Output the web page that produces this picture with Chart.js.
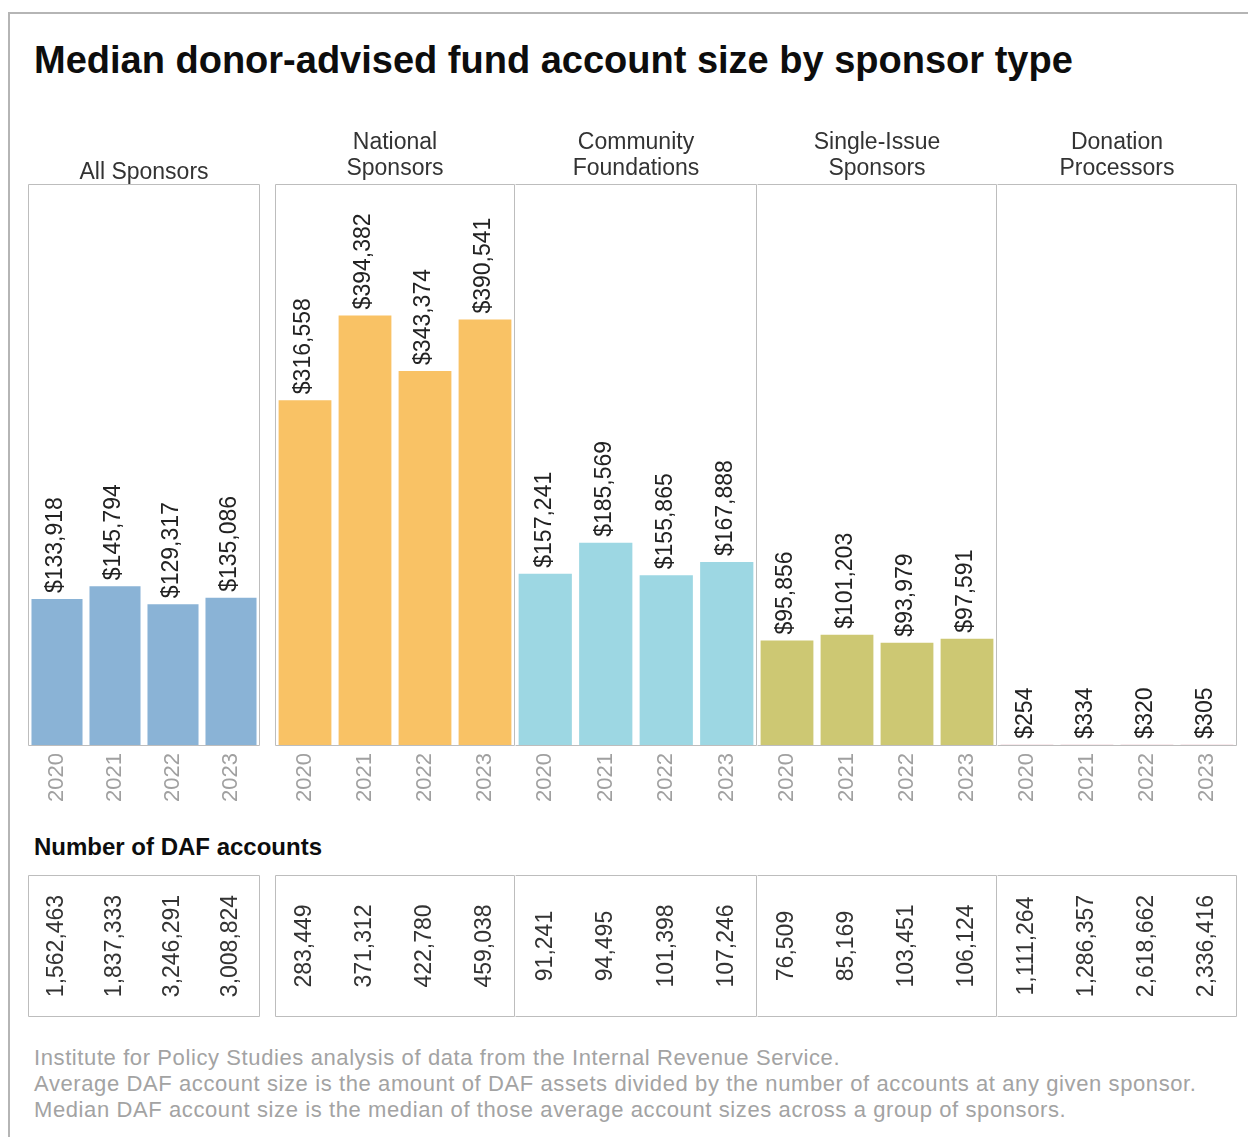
<!DOCTYPE html>
<html>
<head>
<meta charset="utf-8">
<title>Median donor-advised fund account size by sponsor type</title>
<script src="https://cdn.jsdelivr.net/npm/chart.js@4.4.1/dist/chart.umd.min.js"></script>
<style>
  html, body { margin: 0; padding: 0; background: #ffffff; }
  body { width: 1248px; height: 1137px; position: relative; overflow: hidden;
         font-family: "Liberation Sans", Arial, sans-serif; }
  .frame { position: absolute; left: 8px; top: 12px; width: 1400px; height: 1400px;
           border: 2px solid #b5b5b5; box-sizing: border-box; }
  .txt { position: absolute; white-space: nowrap; }
  canvas.panel { position: absolute; }
</style>
</head>
<body>
<div class="frame"></div>
<div id="title" class="txt"></div>
<div id="tableTitle" class="txt"></div>
<div id="notes"></div>

<script>
// ---- data ----
const years = ['2020', '2021', '2022', '2023'];
const panelHeaders = [
  ['All Sponsors'],
  ['National', 'Sponsors'],
  ['Community', 'Foundations'],
  ['Single-Issue', 'Sponsors'],
  ['Donation', 'Processors']
];

// median account size, USD
const allSponsorsMedian = [133918, 145794, 129317, 135086];
const nationalMedian    = [316558, 394382, 343374, 390541];
const communityMedian   = [157241, 185569, 155865, 167888];
const singleIssueMedian = [95856, 101203, 93979, 97591];
const processorsMedian  = [254, 334, 320, 305];

// number of DAF accounts
const allSponsorsAccounts = [1562463, 1837333, 3246291, 3008824];
const nationalAccounts    = [283449, 371312, 422780, 459038];
const communityAccounts   = [91241, 94495, 101398, 107246];
const singleIssueAccounts = [76509, 85169, 103451, 106124];
const processorsAccounts  = [1111264, 1286357, 2618662, 2336416];

const titleText = 'Median donor-advised fund account size by sponsor type';
const tableTitleText = 'Number of DAF accounts';
const noteLines = [
  'Institute for Policy Studies analysis of data from the Internal Revenue Service.',
  'Average DAF account size is the amount of DAF assets divided by the number of accounts at any given sponsor.',
  'Median DAF account size is the median of those average account sizes across a group of sponsors.'
];

const medianSeries  = [allSponsorsMedian, nationalMedian, communityMedian, singleIssueMedian, processorsMedian];
const accountSeries = [allSponsorsAccounts, nationalAccounts, communityAccounts, singleIssueAccounts, processorsAccounts];

// ---- layout & style ----
const FONT = '"Liberation Sans", Arial, sans-serif';
const barColors = ['#8ab3d6', '#f9c265', '#9dd7e3', '#cdc873', '#dfa8b4'];
const panelEdges = [[28, 260], [275, 515], [515, 757], [757, 997], [997, 1237]];
const joinedLeft = [false, false, true, true, true];
const headerGap = [5, 9, 9, 9, 9];
const HEADER_LINE = 26;
const CANVAS_TOP = 100, CANVAS_BOTTOM = 1022;
const PLOT_TOP = 184, PLOT_BOTTOM = 745;
const TABLE_TOP = 875, TABLE_BOTTOM = 1017;
const SIDE = 8;
const Y_MAX = 515000;
const LINE_COLOR = '#bdbdbd';

Chart.defaults.font.family = FONT;

function placeText(el, text, left, baseline, size, weight, color) {
  el.textContent = text;
  el.style.left = left + 'px';
  el.style.fontSize = size + 'px';
  el.style.lineHeight = size + 'px';
  el.style.fontWeight = weight;
  el.style.color = color;
  el.style.top = (baseline - 0.8465 * size) + 'px';
}

placeText(document.getElementById('title'), titleText, 34, 73, 38, 'bold', '#0d0d0d');
placeText(document.getElementById('tableTitle'), tableTitleText, 34, 855, 24, 'bold', '#0d0d0d');
const notesBox = document.getElementById('notes');
noteLines.forEach((line, i) => {
  const d = document.createElement('div');
  d.className = 'txt';
  d.style.letterSpacing = '0.6px';
  notesBox.appendChild(d);
  placeText(d, line, 34, 1066 + i * 26, 22, 'normal', '#a3a3a3');
});

const fmtMoney = v => '$' + v.toLocaleString('en-US');
const fmtCount = v => v.toLocaleString('en-US');

// Draws the panel frame, the header, the value labels and the account-count row.
const panelDecor = {
  id: 'panelDecor',
  beforeDatasetsDraw(chart, args, o) {
    const { ctx, chartArea: a } = chart;
    const l = Math.round(a.left) + 0.5;
    const r = Math.round(a.right) - 0.5;
    const box = (top, bottom) => {
      ctx.beginPath();
      ctx.moveTo(l, top); ctx.lineTo(r, top);
      ctx.moveTo(r, top); ctx.lineTo(r, bottom);
      ctx.moveTo(l, bottom); ctx.lineTo(r, bottom);
      if (!o.joinLeft) { ctx.moveTo(l, top); ctx.lineTo(l, bottom); }
      ctx.stroke();
    };
    ctx.save();
    ctx.strokeStyle = LINE_COLOR;
    ctx.lineWidth = 1;
    box(Math.round(a.top) + 0.5, Math.round(a.bottom) + 0.5);
    const tTop = TABLE_TOP - CANVAS_TOP, tBot = TABLE_BOTTOM - CANVAS_TOP;
    box(tTop + 0.5, tBot - 0.5);

    // header
    ctx.fillStyle = '#333333';
    ctx.font = '23px ' + FONT;
    ctx.textAlign = 'center';
    ctx.textBaseline = 'alphabetic';
    const cx = (a.left + a.right) / 2;
    const lines = o.header;
    lines.forEach((t, i) => {
      const y = a.top - o.gap - (lines.length - 1 - i) * HEADER_LINE;
      ctx.fillText(t, cx, y);
    });
    ctx.restore();
  },
  afterDatasetsDraw(chart, args, o) {
    const { ctx } = chart;
    const meta = chart.getDatasetMeta(0);
    const values = chart.data.datasets[0].data;
    ctx.save();
    ctx.fillStyle = '#222222';
    ctx.font = '23px ' + FONT;
    meta.data.forEach((bar, i) => {
      ctx.save();
      ctx.translate(bar.x - 1, bar.y - 6);
      ctx.rotate(-Math.PI / 2);
      ctx.textAlign = 'left';
      ctx.textBaseline = 'middle';
      ctx.fillText(fmtMoney(values[i]), 0, 0);
      ctx.restore();
    });

    // account counts row
    const xs = chart.scales.x;
    const yMid = ((TABLE_TOP + TABLE_BOTTOM) / 2) - CANVAS_TOP;
    ctx.fillStyle = '#333333';
    o.accounts.forEach((v, i) => {
      ctx.save();
      ctx.translate(xs.getPixelForValue(i), yMid);
      ctx.rotate(-Math.PI / 2);
      ctx.textAlign = 'center';
      ctx.textBaseline = 'middle';
      ctx.fillText(fmtCount(v), 0, 0);
      ctx.restore();
    });
    ctx.restore();
  }
};

panelEdges.forEach(([x0, x1], p) => {
  const c = document.createElement('canvas');
  c.className = 'panel';
  c.width = (x1 - x0) + SIDE * 2;
  c.height = CANVAS_BOTTOM - CANVAS_TOP;
  c.style.left = (x0 - SIDE) + 'px';
  c.style.top = CANVAS_TOP + 'px';
  document.body.appendChild(c);

  new Chart(c, {
    type: 'bar',
    data: {
      labels: years,
      datasets: [{
        data: medianSeries[p],
        backgroundColor: barColors[p],
        borderWidth: 0,
        barPercentage: 0.88,
        categoryPercentage: 1
      }]
    },
    options: {
      responsive: false,
      animation: false,
      devicePixelRatio: 1,
      layout: { padding: { left: SIDE, right: SIDE, top: PLOT_TOP - CANVAS_TOP, bottom: 0 } },
      plugins: {
        legend: { display: false },
        tooltip: { enabled: false },
        panelDecor: {
          header: panelHeaders[p],
          gap: headerGap[p],
          joinLeft: joinedLeft[p],
          accounts: accountSeries[p]
        }
      },
      scales: {
        x: {
          grid: { display: false, drawTicks: false },
          border: { display: false },
          ticks: {
            color: '#a0a0a0',
            font: { size: 22 },
            minRotation: 90,
            maxRotation: 90,
            padding: 8,
            autoSkip: false
          },
          afterFit(scale) { scale.height = CANVAS_BOTTOM - PLOT_BOTTOM; }
        },
        y: { display: false, min: 0, max: Y_MAX }
      }
    },
    plugins: [panelDecor]
  });
});
</script>
</body>
</html>
